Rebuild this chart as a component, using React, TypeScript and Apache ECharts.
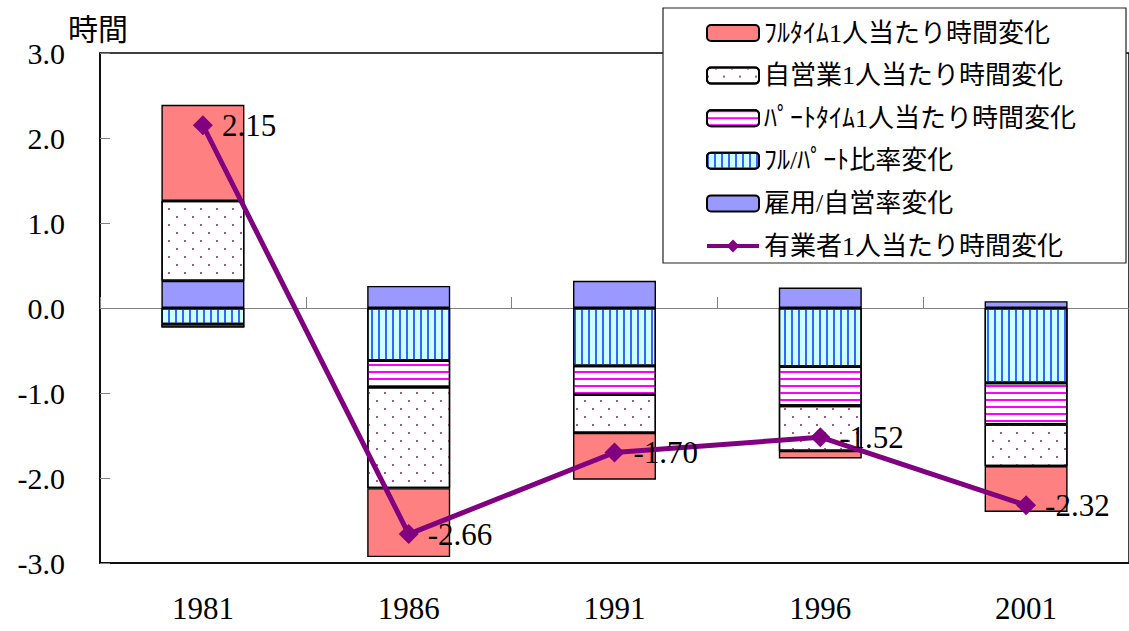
import React, { useEffect, useRef } from 'react';
import * as echarts from 'echarts';

// 年次と各要因の寄与（時間）
const years = ['1981', '1986', '1991', '1996', '2001'];
const fullTimeChange = [1.13, -0.81, -0.55, -0.09, -0.54];
const selfEmpChange = [0.94, -1.19, -0.45, -0.53, -0.49];
const partTimeChange = [-0.04, -0.31, -0.34, -0.46, -0.49];
const fullPartRatioChange = [-0.19, -0.62, -0.68, -0.69, -0.88];
const employSelfRatioChange = [0.32, 0.26, 0.32, 0.24, 0.08];
const totalChange = [2.15, -2.66, -1.7, -1.52, -2.32];

const names = [
  'ﾌﾙﾀｲﾑ1人当たり時間変化',
  '自営業1人当たり時間変化',
  'ﾊﾟｰﾄﾀｲﾑ1人当たり時間変化',
  'ﾌﾙ/ﾊﾟｰﾄ比率変化',
  '雇用/自営率変化',
  '有業者1人当たり時間変化'
];

const SERIF = "'Liberation Serif', 'Times New Roman', serif";
const JP = "'Liberation Serif', 'Noto Sans CJK JP', sans-serif";

const App: React.FC = () => {
  const chartRef = useRef<HTMLDivElement>(null);

  useEffect(() => {
    if (!chartRef.current) return;
    const chart = echarts.init(chartRef.current, undefined, { renderer: 'svg' });

    const border = { borderColor: '#000', borderWidth: 1.4 };

    const barSeries = (name: string, data: number[], itemStyle: any) => ({
      name,
      type: 'bar',
      stack: 'total',
      xAxisIndex: 0,
      barWidth: 83,
      data,
      itemStyle: { ...border, ...itemStyle }
    });

    const option: any = {
      animation: false,
      title: {
        text: '時間',
        left: 68,
        top: 12,
        padding: 0,
        textStyle: { fontSize: 30, fontWeight: 'normal', color: '#000', fontFamily: "'Noto Sans CJK JP', sans-serif" }
      },
      grid: {
        left: 100,
        right: -3,
        top: 53,
        bottom: 68,
        show: true,
        borderColor: '#000',
        borderWidth: 1.5
      },
      graphic: [
        {
          type: 'rect',
          z: 50,
          shape: { x: 663, y: 8, width: 463, height: 255 },
          style: { fill: '#fff', stroke: '#222', lineWidth: 1.2 }
        }
      ],
      legend: {
        z: 60,
        orient: 'vertical',
        left: 705,
        top: 18,
        padding: 0,
        itemWidth: 52,
        itemHeight: 16,
        itemGap: 12.6,
        data: names.map((n, i) => (i === 5 ? { name: n, lineStyle: { width: 4 } } : n)),
        textStyle: { fontSize: 26, lineHeight: 30, color: '#000', fontFamily: JP }
      },
      xAxis: [
        {
          type: 'category',
          data: years,
          position: 'bottom',
          axisLine: { onZero: false, lineStyle: { color: '#000', width: 1.5 } },
          axisTick: { show: false },
          axisLabel: { fontSize: 31, color: '#000', fontFamily: SERIF, margin: 30 }
        },
        {
          type: 'category',
          data: years,
          position: 'top',
          axisLine: { onZero: true, onZeroAxisIndex: 0, lineStyle: { color: '#808080', width: 1 } },
          axisTick: { show: true, inside: false, length: 11, lineStyle: { color: '#808080' } },
          axisLabel: { show: false }
        }
      ],
      yAxis: {
        type: 'value',
        min: -3,
        max: 3,
        interval: 1,
        axisLine: { show: true, lineStyle: { color: '#000', width: 1.5 } },
        axisTick: { show: true, inside: true, length: 10, lineStyle: { color: '#808080' } },
        splitLine: { show: false },
        axisLabel: {
          fontSize: 30,
          color: '#000',
          fontFamily: SERIF,
          margin: 35,
          formatter: (v: number) => v.toFixed(1)
        }
      },
      series: [
        // stacking order from the axis outward
        barSeries(names[4], employSelfRatioChange, { color: '#9999ff' }),
        barSeries(names[3], fullPartRatioChange, {
          color: '#ccffff',
          decal: { symbol: 'rect', color: '#3366ff', dashArrayX: [2, 5], dashArrayY: [1, 0] }
        }),
        barSeries(names[2], partTimeChange, {
          color: '#ffffff',
          decal: { symbol: 'rect', color: '#ff00ff', dashArrayX: [1, 0], dashArrayY: [2, 5] }
        }),
        barSeries(names[1], selfEmpChange, {
          color: '#ffffff',
          decal: {
            symbol: 'rect',
            color: '#b0508a',
            dashArrayX: [[2, 14], [0, 8, 2, 6]],
            dashArrayY: [2, 6]
          }
        }),
        barSeries(names[0], fullTimeChange, { color: '#ff8080' }),
        {
          name: names[5],
          type: 'line',
          xAxisIndex: 0,
          z: 5,
          data: totalChange,
          symbol: 'diamond',
          symbolSize: 20,
          itemStyle: { color: '#800080' },
          lineStyle: { color: '#800080', width: 5 },
          label: {
            show: true,
            position: 'right',
            distance: 9,
            fontSize: 31,
            color: '#000',
            fontFamily: SERIF,
            formatter: (p: any) => p.value.toFixed(2)
          }
        }
      ]
    };

    chart.setOption(option);
    return () => {
      chart.dispose();
    };
  }, []);

  return (
    <div
      ref={chartRef}
      style={{ position: 'fixed', left: 0, top: 0, width: 1129, height: 631, background: '#fff' }}
    />
  );
};

export default App;
